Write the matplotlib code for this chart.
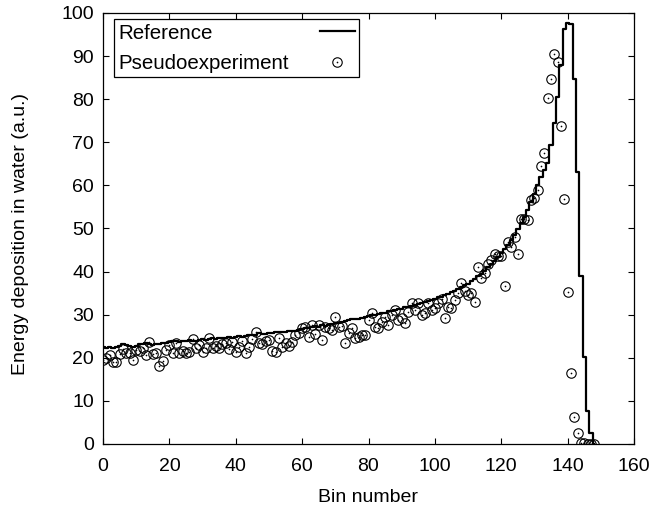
import numpy as np
import matplotlib
matplotlib.use("Agg")
import matplotlib.pyplot as plt

plt.rcParams['font.family'] = ['Liberation Sans', 'DejaVu Sans']

# Bin numbers
bins = list(range(0, 149))

# Reference (step curve) values per bin
reference = [
    22.4, 22.3, 22.4, 22.3, 22.5, 22.8, 23.2, 23.0, 22.7, 22.6,
    22.8, 23.1, 23.3, 23.5, 23.2, 23.0, 23.1, 23.3, 23.5, 23.4,
    23.6, 23.8, 24.0, 23.7, 23.8, 24.0, 24.1, 23.9, 24.0, 24.2,
    24.4, 24.1, 24.3, 24.6, 24.4, 24.5, 24.7, 24.6, 24.8, 24.7,
    24.9, 25.0, 24.9, 25.1, 25.3, 25.2, 25.4, 25.8, 25.5, 25.6,
    25.8, 25.7, 25.9, 26.0, 25.9, 26.1, 26.2, 26.3, 26.2, 26.5,
    26.7, 26.9, 26.8, 27.1, 27.3, 27.2, 27.5, 27.4, 27.7, 27.9,
    28.1, 28.0, 28.3, 28.5, 28.7, 28.9, 29.1, 29.0, 29.3, 29.5,
    29.6, 29.9, 30.0, 30.2, 30.4, 30.5, 30.8, 30.9, 31.1, 31.3,
    31.4, 31.7, 31.9, 32.1, 32.2, 32.5, 32.7, 33.0, 33.2, 33.4,
    33.7, 34.0, 34.2, 34.5, 34.9, 35.2, 35.5, 35.9, 36.4, 36.8,
    37.2, 37.8, 38.3, 38.9, 39.5, 40.2, 41.0, 41.7, 42.5, 43.4,
    44.3, 45.2, 46.2, 47.3, 48.5, 49.8, 51.2, 52.7, 54.4, 56.2,
    58.1, 60.0, 62.0, 63.5, 65.2, 69.4, 74.4, 80.4, 88.0, 96.4,
    97.7, 97.5, 84.7, 63.0, 39.0, 20.3, 7.7, 2.6, 0.0,
]

# Pseudoexperiment values per bin
pseudo = [
    19.4, 19.9, 20.6, 19.0, 19.0, 20.8, 22.0, 21.0, 21.2, 19.5,
    21.7, 21.5, 22.3, 20.6, 23.6, 20.8, 21.0, 18.1, 19.3, 21.7,
    23.0, 21.0, 23.4, 21.0, 21.6, 21.0, 21.3, 24.4, 22.3, 23.0,
    21.3, 22.2, 24.7, 22.2, 22.8, 22.3, 23.2, 23.4, 22.0, 23.7,
    21.4, 22.6, 24.0, 21.0, 22.4, 24.3, 26.1, 23.4, 23.1, 24.0,
    24.1, 21.6, 21.4, 24.5, 22.6, 23.4, 22.7, 23.7, 25.3, 25.7,
    26.8, 27.2, 24.9, 27.6, 25.5, 27.6, 24.1, 27.2, 26.8, 26.4,
    29.5, 27.2, 27.3, 23.4, 25.8, 26.8, 24.7, 24.9, 25.2, 25.4,
    28.8, 30.3, 27.2, 27.0, 28.4, 29.5, 27.6, 29.9, 31.1, 28.8,
    29.2, 28.0, 30.7, 32.6, 31.1, 32.6, 29.9, 30.3, 32.6, 31.1,
    31.5, 32.6, 33.6, 29.2, 31.9, 31.6, 33.4, 35.0, 37.3, 35.5,
    34.6, 35.0, 33.0, 41.1, 38.4, 39.6, 41.8, 42.7, 44.0, 43.6,
    43.6, 36.7, 46.9, 45.8, 48.1, 44.1, 52.3, 52.1, 52.0, 56.6,
    57.0, 58.9, 64.5, 67.6, 80.2, 84.6, 90.6, 88.7, 73.8, 56.8,
    35.3, 16.4, 6.3, 2.6, 0.3, 0.2, 0.1, 0.1, 0.0,
]

x_ticks = [0, 20, 40, 60, 80, 100, 120, 140, 160]
y_ticks = [0, 10, 20, 30, 40, 50, 60, 70, 80, 90, 100]

fig = plt.figure(figsize=(6.55, 5.08), dpi=100)
ax = fig.add_axes([103/655, 1-444/508, (634-103)/655, (444-13)/508])

line, = ax.step(bins, reference, where='mid', color='black', lw=1.6)
circ, = ax.plot(bins, pseudo, linestyle='none', marker='o', markersize=6.8,
                markerfacecolor='none', markeredgecolor='black', markeredgewidth=0.8)
dot, = ax.plot(bins, pseudo, linestyle='none', marker='o', markersize=1.2,
               markerfacecolor='black', markeredgecolor='black', markeredgewidth=0)

ax.set_xlim(0, 160)
ax.set_ylim(0, 100)
ax.set_xticks(x_ticks)
ax.set_yticks(y_ticks)
ax.tick_params(direction='in', top=True, right=True, length=4.5, width=0.8,
               labelsize=14)
ax.tick_params(axis='x', pad=10)
ax.tick_params(axis='y', pad=6.5)
for s in ax.spines.values():
    s.set_linewidth(0.9)

ax.set_xlabel('Bin number', fontsize=14, labelpad=10)
ax.set_ylabel('Energy deposition in water (a.u.)', fontsize=14)
ax.yaxis.set_label_coords((29 - 103) / 531, 1 - (234 - 13) / 431)

leg = ax.legend([line, (circ, dot)], ['Reference', 'Pseudoexperiment'],
                loc='upper left', bbox_to_anchor=((114-103)/531, 1-(19-13)/431),
                borderaxespad=0, markerfirst=False, fancybox=False,
                framealpha=1, edgecolor='black', fontsize=14.75,
                handlelength=1.7, handletextpad=1.5, borderpad=0.22,
                labelspacing=0.55)
leg.get_frame().set_linewidth(0.9)

fig.canvas.draw()
r = fig.canvas.get_renderer()
ws = [t.get_window_extent(r).width for t in leg.get_texts()]
col = leg._legend_handle_box.get_children()[0]
col.align = 'left'
for item, w in zip(col.get_children(), ws):
    item.sep += (max(ws) - w) / r.points_to_pixels(1.)

fig.savefig('out.png', dpi=100)
